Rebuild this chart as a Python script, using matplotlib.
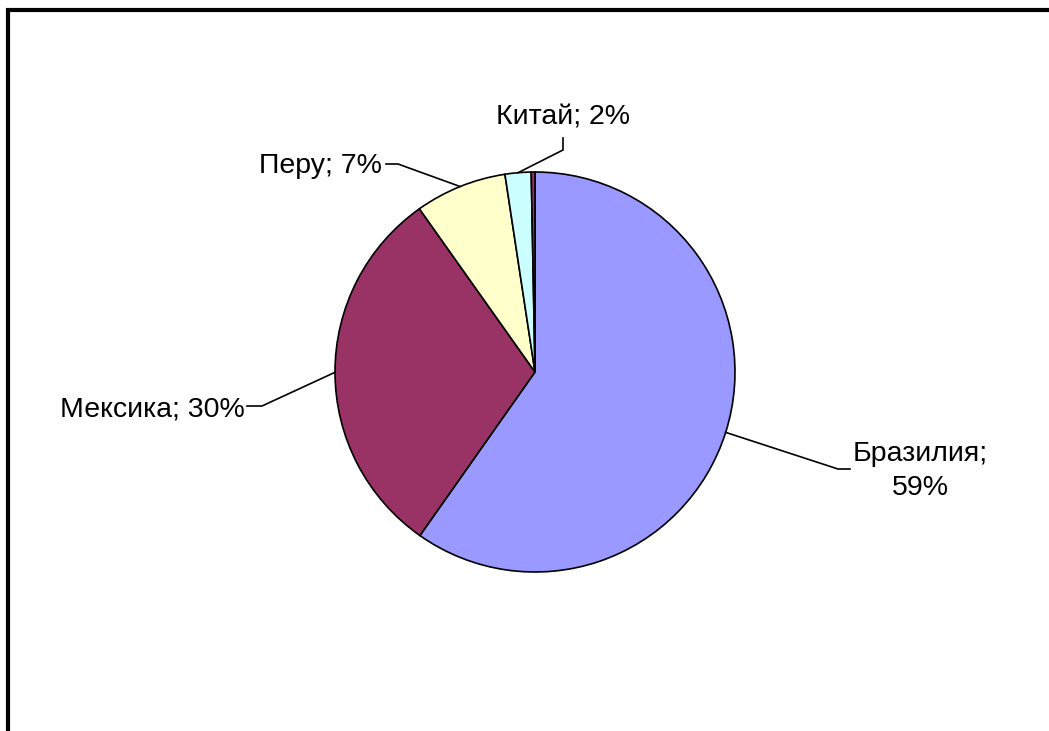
import numpy as np
import matplotlib
matplotlib.use("Agg")
import matplotlib.pyplot as plt

# shares (percent)
countries = ["Бразилия", "Мексика", "Перу", "Китай", ""]
shares = [59.7, 30.4, 7.4, 2.1, 0.3]
labels = ["Бразилия;\n59%", "Мексика; 30%", "Перу; 7%", "Китай; 2%", ""]
colors = ["#9999FF", "#993366", "#FFFFCC", "#CCFFFF", "#993366"]

plt.rcParams["font.family"] = ["Liberation Sans", "DejaVu Sans"]

W, H = 1049, 731
fig = plt.figure(figsize=(W / 100, H / 100), dpi=100)
ax = fig.add_axes([0, 0, 1, 1])

# outer frame (bottom edge falls outside the image)
ax.plot([8, 8, W + 5], [-5, H - 10, H - 10], color="black", lw=3,
        solid_capstyle="butt", solid_joinstyle="miter")

cx, cy, r = 535, H - 372, 200
wedges, _ = ax.pie(shares, colors=colors, startangle=90, counterclock=False,
                   center=(cx, cy), radius=r, frame=True,
                   wedgeprops=dict(edgecolor="black", linewidth=1.2))
ax.set_xlim(0, W)
ax.set_ylim(0, H)
ax.set_aspect("equal")
ax.axis("off")

# label text position, elbow of the leader, label alignment
layout = [
    ((920, H - 471), [(838, H - 469), (850, H - 469)], "center"),
    ((245, H - 409), [(262, H - 406), (247, H - 406)], "right"),
    ((382, H - 166), [(398, H - 164), (386, H - 164)], "right"),
    ((563, H - 117), [(563, H - 150), (563, H - 138)], "center"),
]

for w, lab, (txt_xy, elbow, ha) in zip(wedges, labels, layout):
    ang = np.deg2rad((w.theta1 + w.theta2) / 2)
    px, py = cx + r * np.cos(ang), cy + r * np.sin(ang)
    xs = [px] + [e[0] for e in elbow]
    ys = [py] + [e[1] for e in elbow]
    ax.plot(xs, ys, color="black", lw=1.2)
    ax.text(txt_xy[0], txt_xy[1], lab, ha=ha, va="center", fontsize=20.5,
            linespacing=1.4)

fig.savefig("out.png", dpi=100)
